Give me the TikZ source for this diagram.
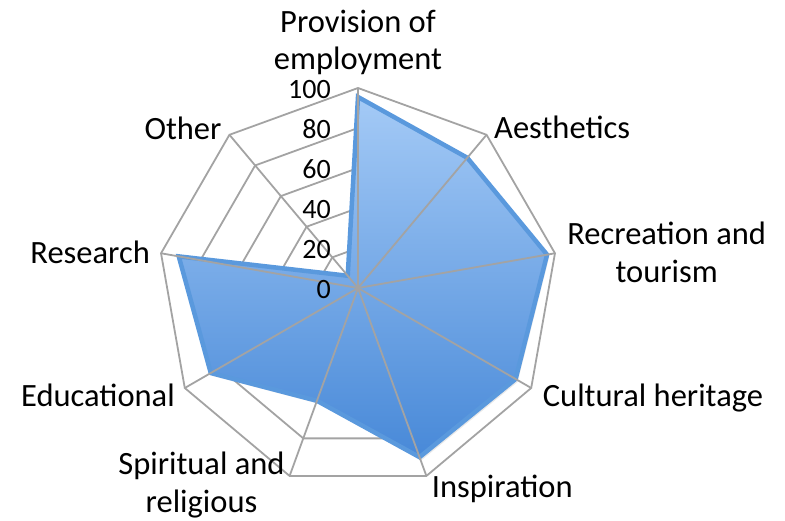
\documentclass[tikz,border=0pt]{standalone}
\usepackage{fontspec}
\setmainfont{Carlito}
\usetikzlibrary{positioning,shadows}

\definecolor{gridgray}{HTML}{A3A3A3}
\definecolor{arealine}{HTML}{5A99DD}
\definecolor{areatop}{HTML}{A4CAF6}
\definecolor{areabot}{HTML}{4889D8}

\begin{document}
\begin{tikzpicture}[x=1pt,y=1pt]
        \tikzstyle{ring}=[draw=gridgray,line width=1.8pt]
        \tikzstyle{spoke}=[draw=gridgray,line width=1.8pt]
        \tikzstyle{area}=[draw=arealine,line width=4.5pt,line join=miter,miter limit=4,top color=areatop,bottom color=areabot]
        \tikzstyle{axislabel}=[font=\fontsize{32.5}{37.6}\selectfont,inner sep=0pt,align=center]
        \tikzstyle{ticklabel}=[font=\fontsize{28}{30}\selectfont,inner sep=0pt,anchor=base east]
        \useasboundingbox (-358,-232) rectangle (427,288);
        \coordinate (c) at (0,0);
        % grid rings, under the area
        \foreach \r in {40,80,...,200}
            \draw[ring] (90:\r) \foreach \a in {50,10,...,-230} { -- (\a:\r) } -- cycle;
        % data area
        \path[area,drop shadow={shadow xshift=2pt,shadow yshift=-3pt,opacity=0.18}]
            (90:191) -- (50:170) -- (10:192) -- (-30:182) -- (-70:180)
            -- (-110:120) -- (-150:170) -- (170:182) -- (130:16) -- cycle;
        % spokes, over the area
        \foreach \a in {90,50,...,-230}
            \draw[spoke] (c) -- (\a:200);
        % scale
        \foreach \v in {0,20,...,100}
            \node[ticklabel] (tick\v) at (-27,{-10.3+2*\v}) {\v};
        % axis labels
        \node[axislabel] (prov) at (0,245.5) {Provision of\\employment};
        \node[axislabel,anchor=base west] (aest) at (136,149.7) {Aesthetics};
        \node[axislabel] (recr) at (308.7,35.5) {Recreation and\\tourism};
        \node[axislabel,anchor=base west] (cult) at (184.7,-118.7) {Cultural heritage};
        \node[axislabel,anchor=base west] (insp) at (73.7,-209.3) {Inspiration};
        \node[axislabel] (spir) at (-156.5,-197) {Spiritual and\\religious};
        \node[axislabel,anchor=base east] (educ) at (-183,-118.7) {Educational};
        \node[axislabel,anchor=base east] (rese) at (-208,25) {Research};
        \node[axislabel,anchor=base east] (othe) at (-136.3,148.7) {Other};
    \end{tikzpicture}
\end{document}
